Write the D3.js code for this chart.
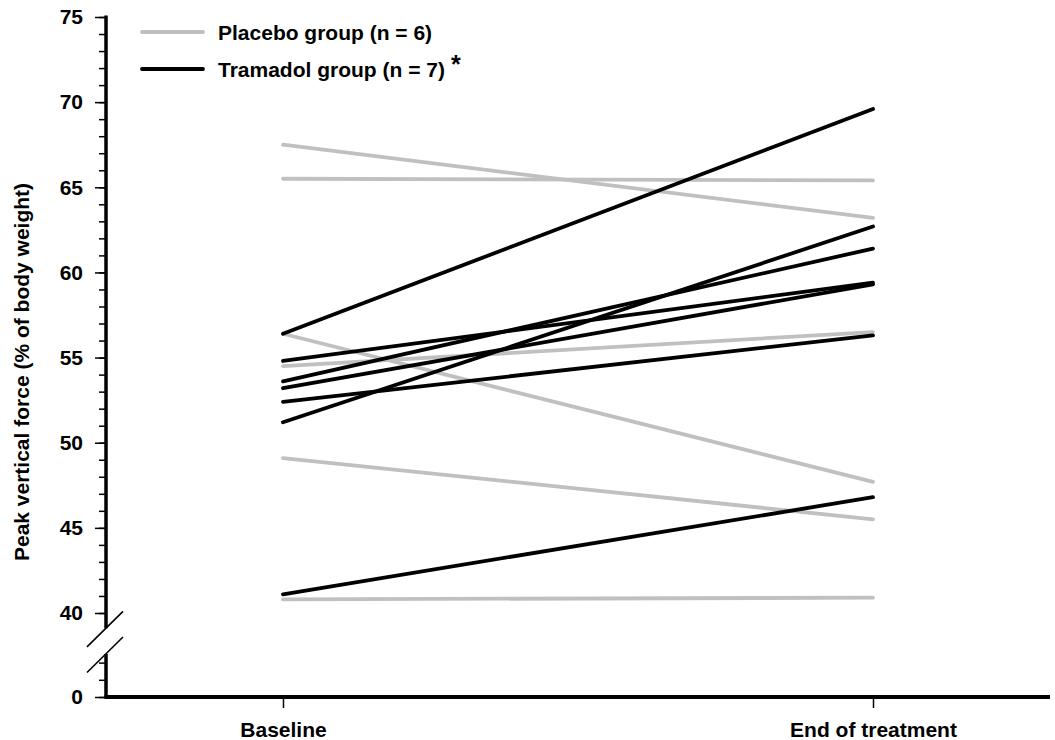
<!DOCTYPE html>
<html>
<head>
<meta charset="utf-8">
<script src="https://cdn.jsdelivr.net/npm/d3@7"></script>
<style>
  body { margin: 0; background: #fff; }
  svg text { font-family: "Liberation Sans", Arial, sans-serif; font-weight: bold; fill: #000; }
</style>
</head>
<body>
<svg id="chart" width="1055" height="740"></svg>
<script>
// values
var timepoints = ["Baseline", "End of treatment"];
var placeboBaseline = [67.5, 65.5, 56.4, 54.5, 49.1, 40.8];
var placeboEnd      = [63.2, 65.4, 47.7, 56.5, 45.5, 40.9];
var tramadolBaseline = [56.4, 54.8, 53.6, 53.2, 52.4, 51.2, 41.1];
var tramadolEnd      = [69.6, 59.4, 61.4, 59.3, 56.3, 62.7, 46.8];
var majorTicks = [40, 45, 50, 55, 60, 65, 70, 75];
var minorTicks = d3.range(40, 76);
var lowTicks = [0, 1, 2];

var legendItems = [
  {label: "Placebo group (n = 6)", color: "#c0c0c0", star: false},
  {label: "Tramadol group (n = 7)", color: "#000", star: true}
];

var svg = d3.select("#chart");

var axisX = 106;
var fontSize = "21px";

// upper part of the broken axis
var y = d3.scaleLinear().domain([40, 75]).range([613, 17]);
// lower part (just the zero)
var yLow = d3.scaleLinear().domain([0, 2.5]).range([697, 654]);

var x = d3.scalePoint().domain(timepoints).range([283, 873]);

function thinTicks(g) {
  g.select(".domain").remove();
  g.selectAll("line").attr("stroke-width", 1.5);
  g.selectAll("text").style("font-size", fontSize);
}

// minor ticks
svg.append("g")
    .attr("transform", "translate(" + axisX + ",0)")
    .call(d3.axisLeft(y).tickValues(minorTicks).tickSize(7).tickFormat(""))
    .call(thinTicks);

// major ticks + labels
svg.append("g")
    .attr("transform", "translate(" + axisX + ",0)")
    .call(d3.axisLeft(y).tickValues(majorTicks).tickSize(11).tickPadding(12).tickFormat(d3.format("d")))
    .call(thinTicks);

svg.append("g")
    .attr("transform", "translate(" + axisX + ",0)")
    .call(d3.axisLeft(yLow).tickValues(lowTicks).tickSize(7).tickFormat(""))
    .call(thinTicks);

svg.append("g")
    .attr("transform", "translate(" + axisX + ",0)")
    .call(d3.axisLeft(yLow).tickValues([0]).tickSize(11).tickPadding(12).tickFormat(d3.format("d")))
    .call(thinTicks);

// axis line segments
var upEnd = y(39.1), lowTop = yLow(2.5);
svg.append("line").attr("x1", axisX).attr("x2", axisX)
    .attr("y1", y(75) - 1.5).attr("y2", upEnd)
    .attr("stroke", "#000").attr("stroke-width", 3.5);
svg.append("line").attr("x1", axisX).attr("x2", axisX)
    .attr("y1", lowTop).attr("y2", yLow(0))
    .attr("stroke", "#000").attr("stroke-width", 3.5);

// break marks
[upEnd, lowTop].forEach(function(cy) {
  svg.append("line")
      .attr("x1", axisX - 19).attr("y1", cy + 18.5)
      .attr("x2", axisX + 17).attr("y2", cy - 17)
      .attr("stroke", "#000").attr("stroke-width", 1.6);
});

// x axis
svg.append("g")
    .attr("transform", "translate(0," + yLow(0) + ")")
    .call(d3.axisBottom(x).tickSize(11))
    .call(thinTicks)
    .call(function(g) { g.selectAll("text").attr("y", 28).attr("dy", "0.55em"); });
svg.append("line")
    .attr("x1", axisX - 1.5).attr("x2", 1050)
    .attr("y1", yLow(0)).attr("y2", yLow(0))
    .attr("stroke", "#000").attr("stroke-width", 4);

// y title
svg.append("text")
    .attr("transform", "translate(29,372) rotate(-90)")
    .attr("text-anchor", "middle")
    .style("font-size", fontSize)
    .text("Peak vertical force (% of body weight)");

// subject lines
function drawGroup(base, end, color) {
  svg.append("g").selectAll("line")
      .data(base.map(function(b, i) { return [b, end[i]]; }))
      .enter().append("line")
      .attr("x1", x(timepoints[0])).attr("x2", x(timepoints[1]))
      .attr("y1", function(d) { return y(d[0]); })
      .attr("y2", function(d) { return y(d[1]); })
      .attr("stroke", color)
      .attr("stroke-width", 3.8)
      .attr("stroke-linecap", "round");
}
drawGroup(placeboBaseline, placeboEnd, "#c0c0c0");
drawGroup(tramadolBaseline, tramadolEnd, "#000");

// legend
var leg = svg.append("g").selectAll("g")
    .data(legendItems)
    .enter().append("g")
    .attr("transform", function(d, i) { return "translate(142," + (32 + i * 37) + ")"; });
leg.append("line")
    .attr("x1", 0).attr("x2", 61)
    .attr("stroke", function(d) { return d.color; })
    .attr("stroke-width", 3.8)
    .attr("stroke-linecap", "round");
leg.append("text")
    .attr("class", "lbl")
    .attr("x", 76).attr("dy", "0.36em")
    .style("font-size", fontSize)
    .text(function(d) { return d.label; });
leg.filter(function(d) { return d.star; })
    .append("text")
    .attr("x", function() {
      return 76 + this.parentNode.querySelector(".lbl").getComputedTextLength() + 6;
    })
    .attr("dy", "0.15em")
    .style("font-size", "25px")
    .text("*");
</script>
</body>
</html>
